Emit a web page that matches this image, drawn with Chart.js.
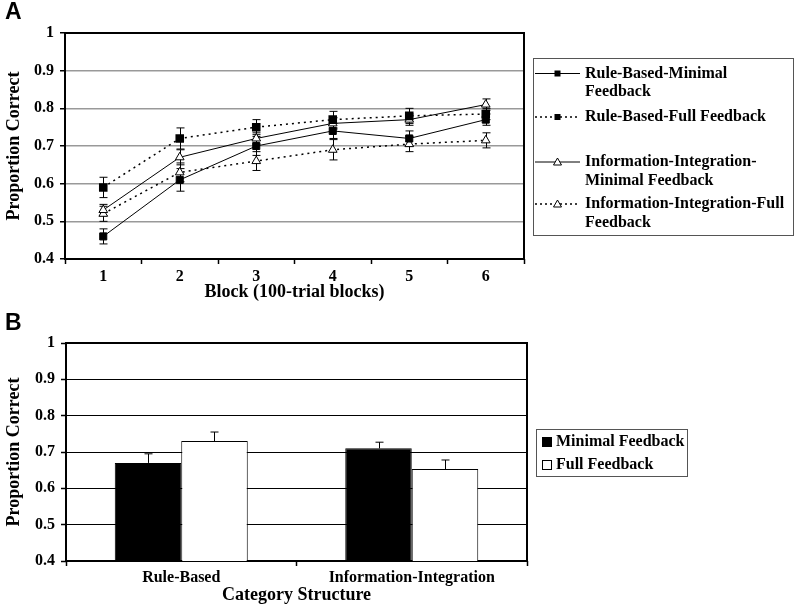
<!DOCTYPE html>
<html>
<head>
<meta charset="utf-8">
<script src="https://cdn.jsdelivr.net/npm/chart.js@4/dist/chart.umd.min.js"></script>
<style>
  body { margin: 0; background: #fff; width: 800px; height: 612px; position: relative; overflow: hidden; }
  canvas { position: absolute; left: 0; }
  #chartA { top: 0; }
  #chartB { top: 306px; }
  .panel { position: absolute; left: 5px; font: bold 23px "Liberation Sans", Arial, sans-serif; line-height: 1; }
</style>
</head>
<body>
<canvas id="chartA" width="800" height="306"></canvas>
<canvas id="chartB" width="800" height="306"></canvas>
<div class="panel" style="top:0px">A</div>
<div class="panel" style="top:311px">B</div>
<script>
// Panel A: proportion correct by block
const blocks = ['1', '2', '3', '4', '5', '6'];
const rbMinimal = [0.46, 0.61, 0.70, 0.74, 0.72, 0.77];
const rbMinimalErr = [0.02, 0.03, 0.025, 0.02, 0.02, 0.015];
const rbFull = [0.59, 0.72, 0.75, 0.77, 0.78, 0.785];
const rbFullErr = [0.027, 0.028, 0.02, 0.022, 0.02, 0.015];
const iiMinimal = [0.53, 0.67, 0.72, 0.76, 0.77, 0.81];
const iiMinimalErr = [0.015, 0.02, 0.015, 0.015, 0.015, 0.015];
const iiFull = [0.52, 0.63, 0.66, 0.69, 0.705, 0.715];
const iiFullErr = [0.02, 0.025, 0.025, 0.027, 0.02, 0.02];
const legendA = [
  ['Rule-Based-Minimal', 'Feedback'],
  ['Rule-Based-Full Feedback'],
  ['Information-Integration-', 'Minimal Feedback'],
  ['Information-Integration-Full', 'Feedback']
];

// Panel B: proportion correct by category structure
const structures = ['Rule-Based', 'Information-Integration'];
const minimalFb = [0.67, 0.71];
const minimalFbErr = [0.025, 0.017];
const fullFb = [0.73, 0.653];
const fullFbErr = [0.025, 0.025];
const legendB = ['Minimal Feedback', 'Full Feedback'];

const serif = '"Liberation Serif", "Times New Roman", serif';
Chart.defaults.font.family = serif;
Chart.defaults.font.weight = 'bold';
Chart.defaults.font.size = 16;
Chart.defaults.color = '#000';

// error bars from dataset.errors
const errorBars = {
  id: 'errorBars',
  draw(chart, opts) {
    const ctx = chart.ctx;
    const y = chart.scales.y;
    ctx.save();
    ctx.strokeStyle = '#000';
    ctx.lineWidth = 1;
    chart.data.datasets.forEach((ds, i) => {
      const meta = chart.getDatasetMeta(i);
      ds.errors.forEach((e, j) => {
        const x = Math.round(meta.data[j].x) + 0.5;
        const v = ds.data[j];
        const top = y.getPixelForValue(v + e);
        const bot = opts.upOnly ? y.getPixelForValue(v) : y.getPixelForValue(v - e);
        const w = opts.cap;
        ctx.beginPath();
        ctx.moveTo(x, top); ctx.lineTo(x, bot);
        ctx.moveTo(x - w, top); ctx.lineTo(x + w, top);
        if (!opts.upOnly) { ctx.moveTo(x - w, bot); ctx.lineTo(x + w, bot); }
        ctx.stroke();
      });
    });
    ctx.restore();
  },
  beforeDatasetsDraw(chart, args, opts) { if (opts.layer === 'below') this.draw(chart, opts); },
  afterDatasetsDraw(chart, args, opts) { if (opts.layer !== 'below') this.draw(chart, opts); }
};

// box round the plot area
const frame = {
  id: 'frame',
  beforeDatasetsDraw(chart, args, opts) {
    const {left, top, right, bottom} = chart.chartArea;
    const ctx = chart.ctx;
    ctx.save();
    ctx.strokeStyle = '#000';
    ctx.lineWidth = opts.width;
    ctx.strokeRect(left, top, right - left, bottom - top);
    ctx.restore();
  }
};

function drawMarker(ctx, type, x, y, r) {
  ctx.save();
  ctx.lineWidth = 1;
  ctx.strokeStyle = '#000';
  if (type === 'rect') {
    ctx.fillStyle = '#000';
    ctx.fillRect(x - r, y - r, 2 * r, 2 * r);
  } else {
    ctx.fillStyle = '#fff';
    ctx.beginPath();
    ctx.moveTo(x, y - r);
    ctx.lineTo(x + r, y + r * 0.75);
    ctx.lineTo(x - r, y + r * 0.75);
    ctx.closePath();
    ctx.fill();
    ctx.stroke();
  }
  ctx.restore();
}

// legend drawn as a framed box beside the plot
const boxLegend = {
  id: 'boxLegend',
  afterDraw(chart, args, opts) {
    const ctx = chart.ctx;
    ctx.save();
    ctx.strokeStyle = '#555';
    ctx.lineWidth = 1;
    ctx.strokeRect(opts.box[0] + 0.5, opts.box[1] + 0.5, opts.box[2], opts.box[3]);
    ctx.font = 'bold 16px ' + serif;
    ctx.fillStyle = '#000';
    ctx.textBaseline = 'middle';
    opts.items.forEach(it => {
      if (it.kind === 'line') {
        ctx.beginPath();
        ctx.strokeStyle = '#000';
        ctx.lineWidth = it.dash ? 1.5 : 1;
        ctx.setLineDash(it.dash ? [2, 3] : []);
        ctx.moveTo(opts.lineX[0], it.y);
        ctx.lineTo(opts.lineX[1], it.y);
        ctx.stroke();
        ctx.setLineDash([]);
        drawMarker(ctx, it.marker, (opts.lineX[0] + opts.lineX[1]) / 2, it.y, it.marker === 'rect' ? 3 : 4);
      } else {
        ctx.fillStyle = it.fill;
        ctx.strokeStyle = '#000';
        ctx.lineWidth = 1;
        ctx.fillRect(opts.swatchX, it.y - 5, 10, 10);
        ctx.strokeRect(opts.swatchX + 0.5, it.y - 4.5, 9, 9);
        ctx.fillStyle = '#000';
      }
      it.lines.forEach((t, k) => ctx.fillText(t, opts.textX, it.y + k * 18.5));
    });
    ctx.restore();
  }
};

const fmt = v => +v.toFixed(1);

new Chart(document.getElementById('chartA'), {
  type: 'line',
  data: {
    labels: blocks,
    datasets: [
      { label: 'Rule-Based-Minimal Feedback', data: rbMinimal, errors: rbMinimalErr, borderColor: '#000', borderWidth: 1, pointStyle: 'rect', pointRadius: 5, backgroundColor: '#000', pointBorderColor: '#000' },
      { label: 'Rule-Based-Full Feedback', data: rbFull, errors: rbFullErr, borderColor: '#000', borderWidth: 1.5, borderDash: [2, 4], pointStyle: 'rect', pointRadius: 5, backgroundColor: '#000', pointBorderColor: '#000' },
      { label: 'Information-Integration-Minimal Feedback', data: iiMinimal, errors: iiMinimalErr, borderColor: '#000', borderWidth: 1, pointStyle: 'triangle', pointRadius: 5, backgroundColor: '#fff', pointBorderColor: '#000', pointBorderWidth: 1 },
      { label: 'Information-Integration-Full Feedback', data: iiFull, errors: iiFullErr, borderColor: '#000', borderWidth: 1.5, borderDash: [2, 4], pointStyle: 'triangle', pointRadius: 5, backgroundColor: '#fff', pointBorderColor: '#000', pointBorderWidth: 1 }
    ]
  },
  options: {
    responsive: false,
    animation: false,
    layout: { padding: { top: 33, right: 276, bottom: 0, left: 0 } },
    scales: {
      x: {
        offset: true,
        grid: { offset: true, drawOnChartArea: false, tickLength: 5, tickColor: '#000', tickWidth: 1.5 },
        border: { display: false },
        ticks: { padding: 3, maxRotation: 0 },
        title: { display: true, text: 'Block (100-trial blocks)', font: { size: 18 }, padding: { top: 0, bottom: 3 } },
        afterFit: s => { s.height = 47; }
      },
      y: {
        min: 0.4, max: 1,
        ticks: { stepSize: 0.1, padding: 6, callback: fmt },
        grid: { color: '#999', lineWidth: 1.5, tickLength: 5, tickColor: '#000', tickWidth: 1.5 },
        border: { display: false },
        title: { display: true, text: 'Proportion Correct', font: { size: 18 }, padding: { top: 4, bottom: 0 } },
        afterFit: s => { s.width = 65; }
      }
    },
    plugins: {
      legend: { display: false },
      tooltip: { enabled: false },
      frame: { width: 2 },
      errorBars: { layer: 'below', cap: 4, upOnly: false },
      boxLegend: {
        box: [533, 58, 260, 177],
        lineX: [535, 580],
        textX: 585,
        items: [
          { kind: 'line', lines: legendA[0], y: 73.5, dash: false, marker: 'rect' },
          { kind: 'line', lines: legendA[1], y: 117, dash: true, marker: 'rect' },
          { kind: 'line', lines: legendA[2], y: 162, dash: false, marker: 'triangle' },
          { kind: 'line', lines: legendA[3], y: 204, dash: true, marker: 'triangle' }
        ]
      }
    }
  },
  plugins: [frame, errorBars, boxLegend]
});

new Chart(document.getElementById('chartB'), {
  type: 'bar',
  data: {
    labels: structures,
    datasets: [
      { label: 'Minimal Feedback', data: minimalFb, errors: minimalFbErr, backgroundColor: '#000', borderColor: '#000', borderWidth: 1 },
      { label: 'Full Feedback', data: fullFb, errors: fullFbErr, backgroundColor: '#fff', borderColor: '#000', borderWidth: 1 }
    ]
  },
  options: {
    responsive: false,
    animation: false,
    categoryPercentage: 0.577,
    barPercentage: 1,
    layout: { padding: { top: 37, right: 273, bottom: 0, left: 0 } },
    scales: {
      x: {
        grid: { offset: true, drawOnChartArea: false, tickLength: 5, tickColor: '#000', tickWidth: 1.5 },
        border: { display: false },
        ticks: { padding: 2, maxRotation: 0 },
        title: { display: true, text: 'Category Structure', font: { size: 18 }, padding: { top: 0, bottom: 6 } },
        afterFit: s => { s.height = 51; }
      },
      y: {
        min: 0.4, max: 1,
        ticks: { stepSize: 0.1, padding: 6, callback: fmt },
        grid: { color: '#000', lineWidth: 1, tickLength: 5, tickColor: '#000', tickWidth: 1.5 },
        border: { display: false },
        title: { display: true, text: 'Proportion Correct', font: { size: 18 }, padding: { top: 4, bottom: 0 } },
        afterFit: s => { s.width = 66; }
      }
    },
    plugins: {
      legend: { display: false },
      tooltip: { enabled: false },
      frame: { width: 2 },
      errorBars: { layer: 'above', cap: 4, upOnly: true },
      boxLegend: {
        box: [536, 123, 151, 47],
        swatchX: 542,
        textX: 556,
        items: [
          { kind: 'swatch', lines: [legendB[0]], y: 136, fill: '#000' },
          { kind: 'swatch', lines: [legendB[1]], y: 159, fill: '#fff' }
        ]
      }
    }
  },
  plugins: [frame, errorBars, boxLegend]
});
</script>
</body>
</html>
